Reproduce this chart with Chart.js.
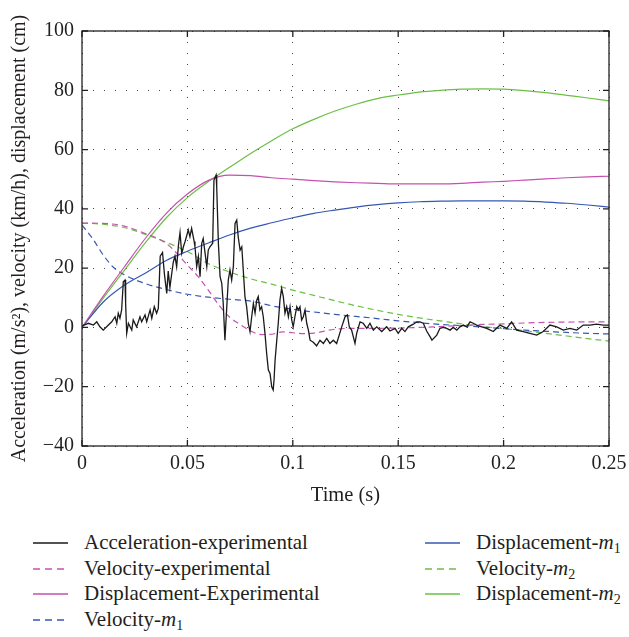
<!DOCTYPE html>
<html><head><meta charset="utf-8">
<script src="https://cdn.jsdelivr.net/npm/chart.js@4"></script>
<style>
html,body{margin:0;padding:0;background:#fff;}
#wrap{position:relative;width:629px;height:637px;overflow:hidden;}
#c{position:absolute;left:0;top:0;}
.leg{position:absolute;font-family:"Liberation Serif",serif;font-size:21px;color:#231f20;line-height:24px;white-space:nowrap;}
.leg svg{position:absolute;top:12px;}
.leg i{font-style:italic;}
.leg sub{font-size:14px;vertical-align:-4px;line-height:0;}
</style></head><body>
<div id="wrap"><canvas id="c" width="629" height="515"></canvas><div id="legend"></div></div>
<script>
// ---- tick labels ----
const xTickValues = [0, 0.05, 0.1, 0.15, 0.2, 0.25];
const xTickLabels = ["0", "0.05", "0.1", "0.15", "0.2", "0.25"];
const yTickValues = [-40, -20, 0, 20, 40, 60, 80, 100];
const yTickLabels = ["\u221240", "\u221220", "0", "20", "40", "60", "80", "100"];

// ---- smooth series ----
const smoothTime = [0,0.01,0.02,0.03,0.04,0.05,0.06,0.07,0.08,0.09,0.1,0.11,0.12,0.13,0.14,0.15,0.16,0.17,0.18,0.19,0.2,0.21,0.22,0.23,0.24,0.25];
const displacementExperimental = [0,10.5,20.3,30,38.5,45,49.6,51.4,51.2,50.5,50,49.5,49.1,48.8,48.6,48.4,48.4,48.4,48.6,49,49.3,49.7,50.1,50.5,50.8,51];
const displacementM1 = [0,8.5,14.2,18.3,22.6,25.7,28.5,31.2,33.5,35.3,37,38.5,39.6,40.6,41.4,42,42.4,42.6,42.7,42.7,42.7,42.6,42.3,41.9,41.3,40.6];
const displacementM2 = [0,9.8,19.2,28.5,37,43.8,49.2,54,58.7,63,67,70.2,73,75.3,77.2,78.4,79.4,80,80.4,80.5,80.4,79.9,79.2,78.3,77.4,76.4];
const velocityM2 = [35.2,34.8,33.7,31.4,28.7,25.6,21.5,18.7,16.4,14.6,12.6,10.8,9.0,7.3,5.8,4.4,3.2,2.2,1.2,0.3,-0.4,-1.1,-2.0,-2.9,-3.8,-4.6];

const velExpTime = [0,0.01,0.02,0.03,0.036,0.04,0.045,0.05,0.055,0.06,0.065,0.07,0.075,0.08,0.085,0.09,0.095,0.1,0.105,0.11,0.12,0.13,0.14,0.15,0.16,0.17,0.18,0.19,0.2,0.21,0.22,0.23,0.24,0.25];
const velocityExperimental = [35.2,35.1,34.2,31.7,30,28.3,25,21,17.2,12.5,7.5,3.5,1.0,-1.2,-2.4,-2.3,-1.5,-1.8,-2.1,-1.9,-0.6,-0.3,-0.3,-0.2,0.0,0.3,0.6,1.0,1.2,1.5,1.7,1.8,1.9,1.9];

const velM1Time = [0,0.005,0.01,0.015,0.02,0.03,0.04,0.05,0.06,0.07,0.08,0.09,0.1,0.11,0.12,0.13,0.14,0.15,0.16,0.17,0.18,0.19,0.2,0.21,0.22,0.23,0.24,0.25];
const velocityM1 = [34.5,30,24.5,20.2,17.8,14.8,12.8,11.2,10.2,9.5,8.9,7.3,6.1,5.2,4.4,3.7,3.0,2.2,1.6,1.0,0.6,0.1,-0.4,-0.9,-1.3,-1.7,-2.0,-2.2];

// ---- experimental acceleration ----
const accelTime = [0,0.003,0.0054,0.007,0.0085,0.0101,0.0117,0.0141,0.0157,0.0165,0.0172,0.018,0.0188,0.0196,0.0204,0.0207,0.0212,0.022,0.0236,0.0243,0.0259,0.0275,0.0283,0.0299,0.0307,0.0323,0.0331,0.0343,0.0354,0.0362,0.0371,0.0382,0.0391,0.0402,0.0409,0.0417,0.0426,0.0433,0.0441,0.0449,0.0458,0.0465,0.0473,0.0481,0.0489,0.0497,0.0504,0.0512,0.052,0.0532,0.0536,0.0544,0.0552,0.056,0.0568,0.0575,0.0584,0.0592,0.0599,0.0607,0.062,0.0626,0.0636,0.0639,0.0647,0.0655,0.0663,0.067,0.0678,0.0686,0.0694,0.0702,0.071,0.0718,0.0726,0.0734,0.0741,0.075,0.0758,0.0765,0.0773,0.0781,0.0789,0.0797,0.0805,0.0813,0.0821,0.0829,0.0836,0.0844,0.0852,0.086,0.0868,0.0876,0.0884,0.0892,0.09,0.0907,0.0911,0.0916,0.0924,0.0931,0.0939,0.0947,0.0955,0.0963,0.0971,0.0979,0.0987,0.0995,0.1002,0.101,0.1019,0.1026,0.1034,0.1042,0.105,0.1058,0.1066,0.1074,0.1082,0.1097,0.1113,0.1129,0.1145,0.1161,0.1176,0.1192,0.1208,0.1232,0.1248,0.1259,0.1268,0.1279,0.1295,0.1303,0.1319,0.1334,0.1351,0.1366,0.1382,0.1398,0.1422,0.1445,0.1461,0.1485,0.15,0.1517,0.1532,0.1548,0.1572,0.1588,0.1603,0.1619,0.1635,0.1651,0.166,0.1683,0.1698,0.1714,0.173,0.1746,0.1761,0.1778,0.1793,0.1809,0.1825,0.1841,0.1856,0.1872,0.1896,0.192,0.1951,0.1983,0.2015,0.2038,0.2062,0.2093,0.2125,0.2157,0.2188,0.222,0.2252,0.2283,0.2315,0.2347,0.2378,0.241,0.2441,0.2473,0.25];
const accelerationExperimental = [0.5,1.4,0.8,1.9,0.2,-0.9,0.2,1.9,3.6,1.4,4.8,3.1,5.9,15.4,16,8.1,-2.0,1.4,-0.9,2.5,0.2,3.6,1.9,4.2,1.9,5.9,3.1,7.0,4.8,6.4,24,25.3,18,11.5,19,13.5,18.3,22,24,20.5,28,32,25,27.2,29,31,32.9,30.6,33.4,29,27.2,20.5,23.9,17.1,28.4,30,25,20.5,26.1,27.2,28.4,49.7,51.4,47.5,28.4,17.1,14.9,8.1,-4.3,5.9,16,19.4,16,20.5,35.1,36.2,30.6,26.1,27.2,19.4,10.4,7.0,1.4,-1.4,3.6,8.1,4.8,9.2,10.4,5.9,7,3.6,-2.0,-8.8,-14.4,-15.5,-20,-21.1,-17.7,-11,-4.3,1.4,9.2,13.2,10.4,4.8,7,3.6,7,2.5,0.2,3.6,7,5.9,7,2.5,3.6,5.9,1.4,-0.9,-4.3,-5,-6.2,-4.3,-5.4,-3.7,-5.4,-4.3,-5.4,0.2,3.6,4.2,0.2,-0.9,-5.4,-2.0,1.9,1.4,-0.3,1.4,-0.9,0.2,-1.4,0.2,-1.2,-0.3,-2.0,-0.3,-1.4,0.2,1.1,1.9,1.9,1.4,-1.2,-3.1,-4.3,-2.6,-0.3,0,-0.3,-0.9,0,-0.9,0.2,0.8,0.2,1.9,1.4,0.8,0.2,-0.3,-1.4,0.8,-0.3,1.9,-0.9,-1.4,-2.0,-2.6,-1.4,0.8,0.2,-0.9,-0.3,-0.9,0.8,0.8,1.1,0.8,0.8];

// ---- series metadata ----
const seriesNames = ["Acceleration-experimental","Velocity-experimental","Displacement-Experimental","Velocity-m1","Displacement-m1","Velocity-m2","Displacement-m2"];
const colBlack = "#1a1a1a", colPink = "#c550b0", colBlue = "#3658b4", colGreen = "#6cbf45";

function pts(ts, vs){ return ts.map((t,i)=>({x:t, y:vs[i]})); }
const FONT = '"Liberation Serif", "Times New Roman", serif';
const dash = [6,4];

const datasets = [
  {label:seriesNames[0], data:pts(accelTime, accelerationExperimental), borderColor:colBlack, borderWidth:1.3, tension:0},
  {label:seriesNames[1], data:pts(velExpTime, velocityExperimental), borderColor:colPink, borderWidth:1.2, borderDash:dash, cubicInterpolationMode:'monotone'},
  {label:seriesNames[2], data:pts(smoothTime, displacementExperimental), borderColor:colPink, borderWidth:1.2, cubicInterpolationMode:'monotone'},
  {label:seriesNames[3], data:pts(velM1Time, velocityM1), borderColor:colBlue, borderWidth:1.2, borderDash:dash, cubicInterpolationMode:'monotone'},
  {label:seriesNames[4], data:pts(smoothTime, displacementM1), borderColor:colBlue, borderWidth:1.2, cubicInterpolationMode:'monotone'},
  {label:seriesNames[5], data:pts(smoothTime, velocityM2), borderColor:colGreen, borderWidth:1.2, borderDash:dash, cubicInterpolationMode:'monotone'},
  {label:seriesNames[6], data:pts(smoothTime, displacementM2), borderColor:colGreen, borderWidth:1.2, cubicInterpolationMode:'monotone'}
];
datasets.forEach(d=>{ d.pointRadius=0; d.fill=false; });

const frame = {
  id:'frame',
  afterDatasetsDraw(chart){
    const {ctx, chartArea:a, scales:{x, y}} = chart;
    ctx.save();
    ctx.strokeStyle = '#231f20';
    ctx.lineWidth = 1.3;
    ctx.setLineDash([]);
    ctx.strokeRect(a.left, a.top, a.right - a.left, a.bottom - a.top);
    ctx.beginPath();
    x.ticks.forEach(t=>{ const p = x.getPixelForValue(t.value);
      ctx.moveTo(p, a.bottom); ctx.lineTo(p, a.bottom - 6);
      ctx.moveTo(p, a.top); ctx.lineTo(p, a.top + 6); });
    y.ticks.forEach(t=>{ const p = y.getPixelForValue(t.value);
      ctx.moveTo(a.left, p); ctx.lineTo(a.left + 6, p);
      ctx.moveTo(a.right, p); ctx.lineTo(a.right - 6, p); });
    ctx.stroke();
    ctx.restore();
  }
};

new Chart(document.getElementById('c'), {
  type:'line',
  data:{datasets},
  plugins:[frame],
  options:{
    responsive:false, animation:false,
    layout:{padding:{top:31, right:20, left:0, bottom:0}},
    plugins:{legend:{display:false}, tooltip:{enabled:false}},
    scales:{
      x:{type:'linear', min:0, max:0.25,
        afterBuildTicks(s){ s.ticks = xTickValues.map(v=>({value:v})); },
        afterFit(s){ s.height = 69; s.paddingRight = 0; s.paddingLeft = 0; },
        ticks:{color:'#231f20', font:{family:FONT, size:20}, padding:6, maxRotation:0,
          callback:(v,i)=>xTickLabels[i]},
        grid:{color:'#444', lineWidth:1, drawTicks:false},
        border:{display:false, dash:[1,10]},
        title:{display:true, text:'Time (s)', color:'#231f20', font:{family:FONT, size:20.5}, padding:{top:0,bottom:7}}
      },
      y:{type:'linear', min:-40, max:100,
        afterBuildTicks(s){ s.ticks = yTickValues.map(v=>({value:v})); },
        afterFit(s){ s.width = 82; s.paddingTop = 0; s.paddingBottom = 0; },
        ticks:{color:'#231f20', font:{family:FONT, size:20}, padding:8,
          callback:(v,i)=>yTickLabels[i]},
        grid:{color:'#444', lineWidth:1, drawTicks:false},
        border:{display:false, dash:[1,10]},
        title:{display:true, text:'Acceleration (m/s\u00b2), velocity (km/h), displacement (cm)', color:'#231f20', font:{family:FONT, size:20}, padding:{top:8,bottom:0}}
      }
    }
  }
});

// ---- HTML legend ----
const legendItems = [
  {html:'Acceleration-experimental', color:colBlack, dashed:false, col:0, row:0},
  {html:'Velocity-experimental', color:colPink, dashed:true, col:0, row:1},
  {html:'Displacement-Experimental', color:colPink, dashed:false, col:0, row:2},
  {html:'Velocity-<i>m</i><sub>1</sub>', color:colBlue, dashed:true, col:0, row:3},
  {html:'Displacement-<i>m</i><sub>1</sub>', color:colBlue, dashed:false, col:1, row:0},
  {html:'Velocity-<i>m</i><sub>2</sub>', color:colGreen, dashed:true, col:1, row:1},
  {html:'Displacement-<i>m</i><sub>2</sub>', color:colGreen, dashed:false, col:1, row:2}
];
const legend = document.getElementById('legend');
const colX = [33, 425], rowY = [530, 555.5, 581, 606.5];
legendItems.forEach(it=>{
  const d = document.createElement('div');
  d.className = 'leg';
  d.style.left = colX[it.col] + 'px';
  d.style.top = rowY[it.row] + 'px';
  d.innerHTML = '<svg width="36" height="2" style="left:0"><line x1="0" y1="1" x2="35" y2="1" stroke="'+it.color+'" stroke-width="1.4"'+(it.dashed?' stroke-dasharray="7,5"':'')+'/></svg><span style="margin-left:51px">'+it.html+'</span>';
  legend.appendChild(d);
});
</script>
</body></html>
